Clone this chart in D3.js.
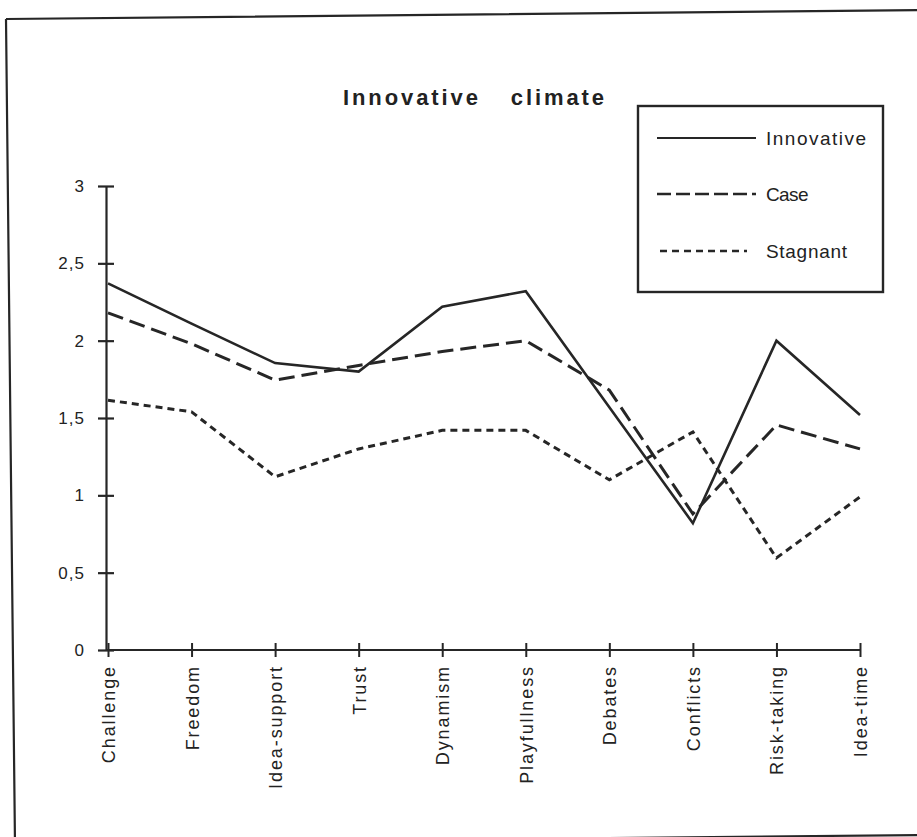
<!DOCTYPE html>
<html>
<head>
<meta charset="utf-8">
<script src="https://cdn.jsdelivr.net/npm/d3@7/dist/d3.min.js"></script>
<style>
  html, body { margin: 0; padding: 0; background: #fff; }
  svg { display: block; }
  text { font-family: "Liberation Sans", Arial, Helvetica, sans-serif; fill: #222; }
</style>
</head>
<body>
<svg id="chart" width="917" height="837"></svg>
<script>
const categories = ["Challenge", "Freedom", "Idea-support", "Trust", "Dynamism", "Playfullness", "Debates", "Conflicts", "Risk-taking", "Idea-time"];
const innovative = [2.37, 2.11, 1.855, 1.80, 2.22, 2.32, 1.57, 0.82, 2.00, 1.52];
const caseValues = [2.18, 1.98, 1.745, 1.84, 1.93, 2.00, 1.68, 0.88, 1.455, 1.30];
const stagnant   = [1.615, 1.54, 1.12, 1.30, 1.42, 1.42, 1.10, 1.41, 0.595, 0.99];
const seriesNames = ["Innovative", "Case", "Stagnant"];
const yTickValues = [0, 0.5, 1, 1.5, 2, 2.5, 3];
const yTickLabels = ["0", "0,5", "1", "1,5", "2", "2,5", "3"];
const title = ["Innovative", "climate"];

const ink = "#262626";
const svg = d3.select("#chart");

// scanned page frame (slightly rotated)
svg.append("path")
  .attr("d", "M6,19 L920,10 M6,19 L15,845 M15,844 L920,835")
  .attr("fill", "none").attr("stroke", ink).attr("stroke-width", 2.2);

const x = d3.scalePoint().domain(categories).range([108, 860]);
const y = d3.scaleLinear().domain([0, 3]).range([650, 186]);

// title
const t = svg.append("text")
  .attr("x", 343).attr("y", 105)
  .attr("font-size", 22).attr("font-weight", "bold")
  .style("letter-spacing", "2.9px");
t.append("tspan").text(title[0]);
t.append("tspan").attr("dx", 30).text(title[1]);

// y axis
const yAxis = d3.axisLeft(y).tickValues(yTickValues)
  .tickFormat((d, i) => yTickLabels[i]).tickSize(0).tickPadding(0);
const gy = svg.append("g").attr("transform", "translate(106,0)").call(yAxis);
gy.select(".domain").attr("stroke", ink).attr("stroke-width", 2.2);
gy.selectAll(".tick line").attr("x1", -8).attr("x2", 8).attr("stroke", ink).attr("stroke-width", 2.2);
gy.selectAll(".tick text").attr("x", -21).attr("font-size", 17).attr("fill", ink)
  .style("letter-spacing", "1px")
  .attr("font-family", "Liberation Sans, Arial, sans-serif");

// x axis
const xAxis = d3.axisBottom(x).tickSize(0).tickPadding(0);
const gx = svg.append("g").attr("transform", "translate(0,650)").call(xAxis);
gx.select(".domain").attr("d", "M106,0H860").attr("stroke", ink).attr("stroke-width", 2.2);
gx.selectAll(".tick line").attr("y1", -7).attr("y2", 7).attr("stroke", ink).attr("stroke-width", 2);
gx.selectAll(".tick text")
  .attr("transform", "rotate(-90)")
  .attr("text-anchor", "end")
  .attr("x", -15).attr("y", 0).attr("dy", "0.36em")
  .attr("font-size", 18).attr("fill", ink)
  .style("letter-spacing", "1.9px")
  .attr("font-family", "Liberation Sans, Arial, sans-serif");

// series
const series = [
  { name: seriesNames[0], values: innovative, dash: null, width: 2.6 },
  { name: seriesNames[1], values: caseValues, dash: "16,7", width: 3 },
  { name: seriesNames[2], values: stagnant, dash: "7,5", width: 3 }
];
const line = d3.line().x((d, i) => x(categories[i])).y(d => y(d));
series.forEach(s => {
  svg.append("path")
    .datum(s.values)
    .attr("d", line)
    .attr("fill", "none")
    .attr("stroke", ink)
    .attr("stroke-width", s.width)
    .attr("stroke-linejoin", "miter")
    .attr("stroke-dasharray", s.dash);
});

// legend
const lg = svg.append("g");
lg.append("rect").attr("x", 638).attr("y", 106).attr("width", 245).attr("height", 186)
  .attr("fill", "#fff").attr("stroke", ink).attr("stroke-width", 2.4);
const legendRows = [
  { y: 138, x1: 657, x2: 756, spacing: "1.5px" },
  { y: 194, x1: 657, x2: 756, spacing: "-0.6px" },
  { y: 251, x1: 660, x2: 747, spacing: "0.7px" }
];
series.forEach((s, i) => {
  const r = legendRows[i];
  lg.append("line").attr("x1", r.x1).attr("x2", r.x2).attr("y1", r.y).attr("y2", r.y)
    .attr("stroke", ink).attr("stroke-width", s.width - 0.4)
    .attr("stroke-dasharray", i === 1 ? "14,5" : s.dash);
  lg.append("text").attr("x", 766).attr("y", r.y + 7)
    .attr("font-size", 19).style("letter-spacing", r.spacing)
    .text(s.name);
});
</script>
</body>
</html>
